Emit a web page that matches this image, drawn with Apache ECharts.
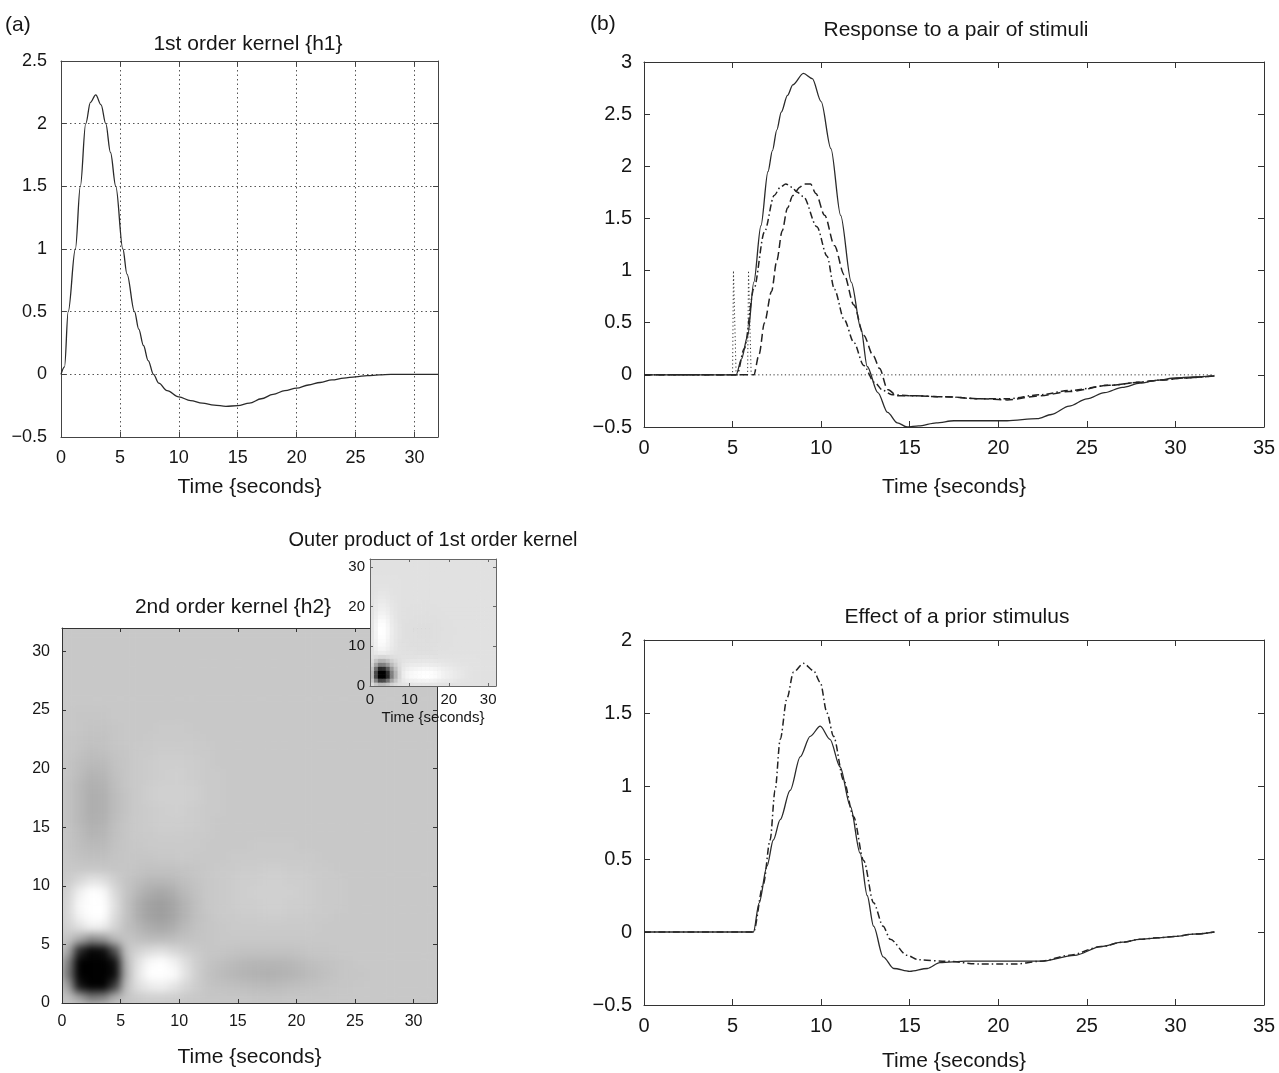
<!DOCTYPE html>
<html>
<head>
<meta charset="utf-8">
<script src="https://cdn.jsdelivr.net/npm/echarts@6/dist/echarts.min.js"></script>
<style>
html,body{margin:0;padding:0;background:#fff;}
#wrap{position:relative;width:1279px;height:1073px;background:#fff;}
#heat{position:absolute;left:62px;top:628px;width:375px;height:375px;overflow:hidden;background:rgb(200,200,200);}
#heat canvas{filter:blur(4.5px);}
#chart{position:absolute;left:0;top:0;width:1279px;height:1073px;}
</style>
</head>
<body>
<div id="wrap">
  <div id="heat"></div>
  <div id="chart"></div>
</div>
<script>
// ---------------- DATA ----------------
// (a) top: 1st order kernel h1
const h1Time  = [0,0.3,0.61,1.22,1.64,2.1,2.5,2.95,3.4,3.8,4.2,4.65,5.25,5.6,6.24,6.6,7.0,7.4,7.85,8.3,9,10,11,12,13,14,15,16,17,18,19,20,21,22,23,24,25,26,27,28,32];
const h1Value = [0,0.06,0.5,1.0,1.5,2.0,2.17,2.23,2.15,2.0,1.77,1.5,1.0,0.8,0.5,0.36,0.23,0.11,0,-0.07,-0.13,-0.18,-0.21,-0.23,-0.245,-0.255,-0.25,-0.23,-0.195,-0.16,-0.13,-0.11,-0.085,-0.065,-0.045,-0.03,-0.02,-0.01,-0.005,0,0];

// h1 read at 1-second cell centres (0.5, 1.5, ... 31.5) for the outer-product inset
const h1Cell = [0.35,1.33,2.17,2.12,1.58,0.85,0.4,0.08,-0.09,-0.16,-0.2,-0.22,-0.24,-0.25,-0.255,-0.24,-0.215,-0.18,-0.145,-0.12,-0.1,-0.075,-0.055,-0.04,-0.025,-0.015,-0.008,-0.003,0,0,0,0];

// (a) bottom: 2nd order kernel h2, rows = y cell 0..31 (bottom to top), columns = x cell 0..31
const h2Rows = [
  [0.04,0.20,0.40,0.35,0.12,0.02,-0.02,-0.04,-0.04,-0.03,-0.01,0,0.01,0.01,0.01,0.01,0.02,0.02,0.02,0.01,0.01,0.01,0.01,0,0,0,0,0,0,0,0,0],
  [0.20,0.90,1,1,0.70,0.04,-0.12,-0.18,-0.20,-0.15,-0.08,-0.02,0.02,0.03,0.04,0.05,0.06,0.07,0.06,0.05,0.04,0.03,0.02,0.01,0.01,0,0,0,0,0,0,0],
  [0.40,1,1,1,0.95,0.10,-0.16,-0.28,-0.30,-0.26,-0.14,-0.03,0.03,0.06,0.08,0.10,0.11,0.12,0.11,0.10,0.08,0.06,0.04,0.02,0.01,0.01,0,0,0,0,0,0],
  [0.35,1,1,1,0.92,0.08,-0.14,-0.25,-0.28,-0.22,-0.12,-0.03,0.02,0.04,0.06,0.08,0.09,0.09,0.09,0.08,0.06,0.04,0.03,0.02,0.01,0,0,0,0,0,0,0],
  [0.15,0.80,0.98,0.95,0.60,0.03,-0.06,-0.10,-0.12,-0.08,-0.04,-0.01,0.01,0.01,0.02,0.03,0.03,0.03,0.03,0.03,0.02,0.01,0.01,0,0,0,0,0,0,0,0,0],
  [0.02,0.15,0.30,0.25,0.08,0.02,0.04,0.06,0.06,0.05,0.03,0.02,0.01,0,0,0,0,0,0,0,0,0,0,0,0,0,0,0,0,0,0,0],
  [-0.05,-0.12,-0.20,-0.18,-0.06,0.04,0.09,0.14,0.16,0.13,0.07,0.03,0.01,0,-0.01,-0.01,-0.01,-0.01,-0.01,-0.01,-0.01,-0.01,0,0,0,0,0,0,0,0,0,0],
  [-0.08,-0.22,-0.30,-0.28,-0.10,0.03,0.13,0.19,0.21,0.17,0.10,0.04,0.01,-0.01,-0.01,-0.02,-0.02,-0.03,-0.03,-0.02,-0.02,-0.01,-0.01,0,0,0,0,0,0,0,0,0],
  [-0.08,-0.24,-0.32,-0.30,-0.12,0.03,0.13,0.19,0.21,0.17,0.10,0.04,0,-0.01,-0.02,-0.03,-0.03,-0.04,-0.04,-0.03,-0.03,-0.02,-0.01,-0.01,0,0,0,0,0,0,0,0],
  [-0.06,-0.20,-0.28,-0.25,-0.09,0.02,0.09,0.14,0.16,0.13,0.07,0.03,0,-0.01,-0.02,-0.03,-0.04,-0.04,-0.04,-0.04,-0.03,-0.02,-0.01,-0.01,0,0,0,0,0,0,0,0],
  [-0.02,-0.08,-0.14,-0.12,-0.04,0.02,0.05,0.08,0.08,0.07,0.04,0.02,0,-0.01,-0.02,-0.03,-0.03,-0.04,-0.04,-0.03,-0.03,-0.02,-0.01,-0.01,0,0,0,0,0,0,0,0],
  [0,0,0,0,0.01,0.01,0.02,0.03,0.03,0.03,0.02,0.01,0,-0.01,-0.01,-0.02,-0.02,-0.03,-0.03,-0.02,-0.02,-0.01,-0.01,0,0,0,0,0,0,0,0,0],
  [0.01,0.03,0.04,0.04,0.02,0.01,0.01,0.01,0,0,-0.01,0,0,0,-0.01,-0.01,-0.01,-0.01,-0.01,-0.01,-0.01,-0.01,0,0,0,0,0,0,0,0,0,0],
  [0.02,0.05,0.07,0.07,0.03,0.01,0,-0.01,-0.01,-0.01,-0.01,-0.01,0,0,0,0,-0.01,-0.01,-0.01,-0.01,0,0,0,0,0,0,0,0,0,0,0,0],
  [0.02,0.06,0.10,0.09,0.04,0.01,-0.01,-0.01,-0.02,-0.02,-0.02,-0.01,-0.01,0,0,0,0,0,0,0,0,0,0,0,0,0,0,0,0,0,0,0],
  [0.03,0.08,0.12,0.11,0.05,0.01,-0.01,-0.02,-0.03,-0.03,-0.03,-0.02,-0.01,0,0,0,0,0,0,0,0,0,0,0,0,0,0,0,0,0,0,0],
  [0.03,0.08,0.13,0.12,0.06,0.02,-0.01,-0.02,-0.03,-0.04,-0.03,-0.02,-0.01,-0.01,0,0,0,0,0,0,0,0,0,0,0,0,0,0,0,0,0,0],
  [0.03,0.08,0.13,0.12,0.06,0.02,-0.01,-0.03,-0.04,-0.04,-0.04,-0.03,-0.01,-0.01,0,0,0,0,0,0,0,0,0,0,0,0,0,0,0,0,0,0],
  [0.03,0.08,0.12,0.11,0.05,0.01,-0.01,-0.03,-0.04,-0.04,-0.04,-0.03,-0.01,-0.01,0,0,0,0,0,0,0,0,0,0,0,0,0,0,0,0,0,0],
  [0.02,0.06,0.10,0.09,0.04,0.01,-0.01,-0.02,-0.03,-0.04,-0.03,-0.02,-0.01,-0.01,0,0,0,0,0,0,0,0,0,0,0,0,0,0,0,0,0,0],
  [0.02,0.05,0.07,0.07,0.03,0.01,-0.01,-0.02,-0.03,-0.03,-0.03,-0.02,-0.01,0,0,0,0,0,0,0,0,0,0,0,0,0,0,0,0,0,0,0],
  [0.01,0.03,0.05,0.04,0.02,0.01,-0.01,-0.01,-0.02,-0.02,-0.02,-0.01,-0.01,0,0,0,0,0,0,0,0,0,0,0,0,0,0,0,0,0,0,0],
  [0.01,0.02,0.03,0.03,0.01,0,0,-0.01,-0.01,-0.01,-0.01,-0.01,0,0,0,0,0,0,0,0,0,0,0,0,0,0,0,0,0,0,0,0],
  [0,0.01,0.02,0.02,0.01,0,0,0,-0.01,-0.01,-0.01,0,0,0,0,0,0,0,0,0,0,0,0,0,0,0,0,0,0,0,0,0],
  [0,0.01,0.01,0.01,0,0,0,0,0,0,0,0,0,0,0,0,0,0,0,0,0,0,0,0,0,0,0,0,0,0,0,0],
  [0,0,0,0,0,0,0,0,0,0,0,0,0,0,0,0,0,0,0,0,0,0,0,0,0,0,0,0,0,0,0,0],
  [0,0,0,0,0,0,0,0,0,0,0,0,0,0,0,0,0,0,0,0,0,0,0,0,0,0,0,0,0,0,0,0],
  [0,0,0,0,0,0,0,0,0,0,0,0,0,0,0,0,0,0,0,0,0,0,0,0,0,0,0,0,0,0,0,0],
  [0,0,0,0,0,0,0,0,0,0,0,0,0,0,0,0,0,0,0,0,0,0,0,0,0,0,0,0,0,0,0,0],
  [0,0,0,0,0,0,0,0,0,0,0,0,0,0,0,0,0,0,0,0,0,0,0,0,0,0,0,0,0,0,0,0],
  [0,0,0,0,0,0,0,0,0,0,0,0,0,0,0,0,0,0,0,0,0,0,0,0,0,0,0,0,0,0,0,0],
  [0,0,0,0,0,0,0,0,0,0,0,0,0,0,0,0,0,0,0,0,0,0,0,0,0,0,0,0,0,0,0,0]
];

// (b) top: response to a pair of stimuli
const pairTime   = [0,5.2,5.5,5.85,6.2,6.6,7.0,7.25,7.5,7.75,8.1,8.4,9.0,9.5,10.0,10.55,11.1,11.7,12.25,12.6,13.2,13.75,14.3,14.85,15.5,16.5,17.5,19,20.5,22.2,23,24,25,26,27,28,29,30,31,32.2];
const pairValue  = [0,0,0.15,0.37,0.89,1.43,1.95,2.15,2.35,2.52,2.68,2.78,2.89,2.84,2.62,2.17,1.53,0.89,0.44,0.08,-0.17,-0.36,-0.46,-0.5,-0.49,-0.46,-0.44,-0.44,-0.44,-0.42,-0.38,-0.3,-0.23,-0.17,-0.12,-0.08,-0.05,-0.03,-0.02,-0.01];
const firstTime  = [0,5.25,5.66,6.2,6.8,7.35,7.7,8.0,8.35,8.65,9.0,9.76,10.33,10.75,11.3,11.85,12.4,13.0,13.5,14.0,15,17,19,20.5,22.4,24,26.3,28,29.2,30.5,32.2];
const firstValue = [0,0,0.25,0.82,1.37,1.72,1.8,1.83,1.8,1.75,1.71,1.42,1.14,0.82,0.53,0.31,0.09,-0.07,-0.15,-0.19,-0.2,-0.21,-0.23,-0.23,-0.19,-0.15,-0.1,-0.07,-0.05,-0.03,-0.01];
const secondTime  = [0,6.2,6.5,6.8,7.2,7.5,7.8,8.1,8.4,8.8,9.0,9.4,9.7,10.2,10.75,11.3,11.85,12.4,12.95,13.3,13.75,14.3,15,17,19,20.5,22.4,24,26.3,28,29.2,30.5,32.2];
const secondValue = [0,0,0.2,0.5,0.8,1.1,1.38,1.6,1.72,1.8,1.83,1.83,1.74,1.53,1.24,0.96,0.67,0.38,0.18,0.06,-0.14,-0.2,-0.2,-0.21,-0.23,-0.24,-0.2,-0.16,-0.1,-0.07,-0.05,-0.03,-0.01];
const stimTime  = [0,5.0,5.05,5.2,5.85,5.9,6.05,32.2];
const stimValue = [0,0,1,0,0,1,0,0];

// (b) bottom: effect of a prior stimulus
const aloneTime   = [0,6.18,6.74,7.12,7.4,7.69,8.07,8.44,9.0,9.57,9.95,10.33,10.7,11.27,11.83,12.4,12.96,13.5,13.9,14.85,15.5,17,19,20.9,22.4,24,25.8,27,28,29,30,31,32.2];
const aloneValue  = [0,0,0.33,0.63,0.97,1.32,1.6,1.78,1.84,1.79,1.71,1.5,1.34,1.04,0.79,0.49,0.2,0.04,-0.05,-0.16,-0.19,-0.2,-0.22,-0.22,-0.2,-0.16,-0.1,-0.07,-0.05,-0.04,-0.03,-0.015,0];
const effectTime  = [0,6.18,6.5,6.94,7.3,7.69,8.25,8.82,9.38,9.95,10.5,11.07,11.65,12.2,12.6,12.96,13.5,14.1,15.0,16.0,16.7,18.2,20,22.4,24.3,25.8,27,28,29,30,31,32.2];
const effectValue = [0,0,0.2,0.45,0.63,0.77,0.97,1.2,1.34,1.41,1.32,1.13,0.86,0.54,0.25,0.04,-0.17,-0.25,-0.27,-0.25,-0.21,-0.2,-0.2,-0.2,-0.16,-0.1,-0.07,-0.05,-0.04,-0.03,-0.015,0];

// texts
const titles = {
  a: '(a)', b: '(b)',
  h1: '1st order kernel {h1}',
  h2: '2nd order kernel {h2}',
  outer: 'Outer product of 1st order kernel',
  pair: 'Response to a pair of stimuli',
  prior: 'Effect of a prior stimulus'
};
const timeName = 'Time {seconds}';

// ---------------- BUILD ----------------
const FONT = "'Liberation Sans', Arial, Helvetica, sans-serif";
const INK = '#161616';
const zip = (t, v) => t.map((x, i) => [x, v[i]]);

function labelFmt(interval) {
  return function (v) {
    const k = v / interval;
    if (Math.abs(k - Math.round(k)) > 1e-6) return '';
    const r = Math.round(v * 100) / 100;
    return r < 0 ? '\u2212' + (-r) : String(r);
  };
}

function axisPair(dir, gi, min, max, interval, o) {
  const lc = o.lineColor || '#333';
  const common = {
    type: 'value', gridIndex: gi, min: min, max: max, interval: interval, z: o.z || 0,
    axisLine: { show: true, onZero: false, lineStyle: { color: lc, width: 1 } },
    axisTick: { show: true, inside: true, length: o.tick || 5, lineStyle: { color: lc, width: 1 } },
    splitLine: { show: false }
  };
  const main = Object.assign({}, common, {
    position: dir === 'x' ? 'bottom' : 'left',
    axisLabel: { show: true, fontSize: o.fs, margin: o.margin, color: INK, fontFamily: FONT, formatter: labelFmt(interval) },
    splitLine: o.grid ? { show: true, lineStyle: { type: [1.5, 3], color: '#555', width: 1 } } : { show: false }
  });
  if (o.name) {
    Object.assign(main, {
      name: o.name, nameLocation: 'middle', nameGap: o.nameGap,
      nameTextStyle: { fontSize: o.nfs, fontFamily: FONT, color: INK }
    });
  }
  const mirror = Object.assign({}, common, {
    position: dir === 'x' ? 'top' : 'right',
    axisLabel: { show: false }
  });
  return [main, mirror];
}

const grids = [
  { left: 61, top: 61, width: 377, height: 376 },   // 0: h1
  { left: 644, top: 62, width: 620, height: 365 },  // 1: pair response
  { left: 62, top: 628, width: 375, height: 375 },  // 2: h2 heat map (axes)
  { left: 370, top: 559, width: 126, height: 127 }, // 3: outer product inset
  { left: 644, top: 640, width: 620, height: 365 }  // 4: prior stimulus effect
].map(g => Object.assign({ containLabel: false, show: false }, g));

const xAxes = [].concat(
  axisPair('x', 0, 0, 32, 5, { fs: 18, margin: 12, grid: true, name: timeName, nameGap: 40, nfs: 21, lineColor: '#444' }),
  axisPair('x', 1, 0, 35, 5, { fs: 20, margin: 11, name: timeName, nameGap: 50, nfs: 21, tick: 6 }),
  axisPair('x', 2, 0, 32, 5, { fs: 16, margin: 11, name: timeName, nameGap: 44, nfs: 21, z: 3, tick: 4 }),
  axisPair('x', 3, 0, 32, 10, { fs: 15, margin: 6, name: timeName, nameGap: 24, nfs: 15, z: 10, tick: 3, lineColor: '#666' }),
  axisPair('x', 4, 0, 35, 5, { fs: 20, margin: 11, name: timeName, nameGap: 46, nfs: 21, tick: 6 })
);
const yAxes = [].concat(
  axisPair('y', 0, -0.5, 2.5, 0.5, { fs: 18, margin: 14, grid: true, lineColor: '#444' }),
  axisPair('y', 1, -0.5, 3, 0.5, { fs: 20, margin: 12, tick: 6 }),
  axisPair('y', 2, 0, 32, 5, { fs: 16, margin: 12, z: 3, tick: 4 }),
  axisPair('y', 3, 0, 32, 10, { fs: 15, margin: 5, z: 10, tick: 3, lineColor: '#666' }),
  axisPair('y', 4, -0.5, 2, 0.5, { fs: 20, margin: 12, tick: 6 })
);

function lineSeries(ax, t, v, style, extra) {
  return Object.assign({
    type: 'line', xAxisIndex: ax, yAxisIndex: ax, data: zip(t, v),
    showSymbol: false, symbol: 'none', animation: false, silent: true, clip: true,
    lineStyle: Object.assign({ color: '#2a2a2a', width: 1.3 }, style)
  }, extra || {});
}

const h2Cells = [];
h2Rows.forEach((row, r) => row.forEach((v, c) => h2Cells.push([c, r, v])));
const outerCells = [];
h1Cell.forEach((a, r) => h1Cell.forEach((b, c) => outerCells.push([c, r, a * b])));

function grayOf(v, lo, hi) {
  let f = (hi - v) / (hi - lo);
  f = Math.max(0, Math.min(1, f));
  const g = Math.round(255 * f);
  return 'rgb(' + g + ',' + g + ',' + g + ')';
}
function cellSeries(ax, data, lo, hi, z) {
  return {
    type: 'custom', xAxisIndex: ax, yAxisIndex: ax, data: data, z: z,
    animation: false, silent: true, clip: true,
    encode: { x: 0, y: 1 },
    renderItem: function (params, api) {
      const x = api.value(0), y = api.value(1), v = api.value(2);
      const p = api.coord([x, y + 1]);
      const q = api.coord([x + 1, y]);
      return {
        type: 'rect',
        shape: { x: p[0], y: p[1], width: q[0] - p[0] + 0.6, height: q[1] - p[1] + 0.6 },
        style: { fill: grayOf(v, lo, hi), stroke: null }
      };
    }
  };
}

const series = [
  lineSeries(0, h1Time, h1Value, { color: '#2a2a2a', width: 1.3 }, { smooth: 0.35, smoothMonotone: 'x' }),
  lineSeries(2, stimTime, stimValue, { color: '#333', width: 1, type: [1.2, 2.6] }),
  lineSeries(2, secondTime, secondValue, { color: '#222', width: 1.5, type: [8, 4] }, { smooth: 0.3, smoothMonotone: 'x' }),
  lineSeries(2, firstTime, firstValue, { color: '#222', width: 1.5, type: [7, 3, 1.5, 3] }, { smooth: 0.3, smoothMonotone: 'x' }),
  lineSeries(2, pairTime, pairValue, { color: '#2a2a2a', width: 1.3 }, { smooth: 0.3, smoothMonotone: 'x' }),
  cellSeries(6, outerCells, -0.55, 4.2, 5),
  lineSeries(8, aloneTime, aloneValue, { color: '#222', width: 1.5, type: [7, 3, 1.5, 3] }, { smooth: 0.3, smoothMonotone: 'x' }),
  lineSeries(8, effectTime, effectValue, { color: '#2a2a2a', width: 1.3 }, { smooth: 0.3, smoothMonotone: 'x' })
];

function txt(text, x, y, size, align) {
  return {
    type: 'text', x: x, y: y, z: 100, silent: true,
    style: {
      text: text, font: size + 'px ' + FONT, fill: INK,
      textAlign: align || 'center', align: align || 'center',
      textVerticalAlign: 'middle', verticalAlign: 'middle'
    }
  };
}

const option = {
  backgroundColor: 'transparent',
  animation: false,
  grid: grids,
  xAxis: xAxes,
  yAxis: yAxes,
  series: series,
  graphic: [
    txt(titles.a, 5, 25, 21, 'left'),
    txt(titles.b, 590, 24, 21, 'left'),
    txt(titles.h1, 248, 44, 21),
    txt(titles.pair, 956, 30, 21),
    txt(titles.outer, 433, 540, 20),
    txt(titles.h2, 233, 607, 21),
    txt(titles.prior, 957, 617, 21)
  ]
};

// 2nd order kernel cells: drawn on the same 0..32 value scales, in a layer aligned with grid 2
const heatOption = {
  backgroundColor: 'transparent',
  animation: false,
  grid: { left: 0, top: 0, width: 375, height: 375, containLabel: false, show: false },
  xAxis: { type: 'value', min: 0, max: 32, show: false },
  yAxis: { type: 'value', min: 0, max: 32, show: false },
  series: [cellSeries(0, h2Cells, -0.275, 1, 2)]
};

const heat = echarts.init(document.getElementById('heat'), null, { renderer: 'canvas' });
heat.setOption(heatOption);
const chart = echarts.init(document.getElementById('chart'), null, { renderer: 'canvas' });
chart.setOption(option);
</script>
</body>
</html>
